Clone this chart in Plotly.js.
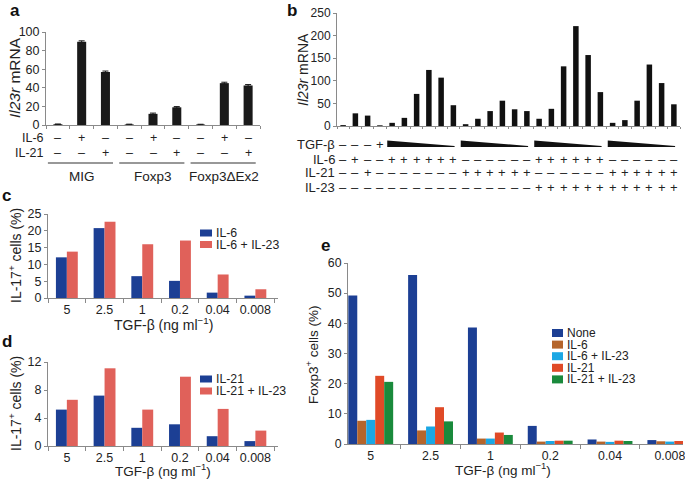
<!DOCTYPE html>
<html><head><meta charset="utf-8">
<script src="https://cdn.plot.ly/plotly-3.0.1.min.js"></script>
<style>html,body{margin:0;padding:0;background:#fff}#chart{width:685px;height:480px}</style>
</head><body><div id="chart"></div>
<script>
const W=685,H=480;
const F='Liberation Sans, Arial, Helvetica, sans-serif';
// ---- Panel a data ----
const aValues=[0.8,89.5,57, 0.6,12,19, 0.5,45,42.5];
const aErrors=[0.3,1,1, 0.3,0.8,0.8, 0.3,1,1];
const aIL6 =[0,1,0, 0,1,0, 0,1,0];
const aIL21=[0,0,1, 0,0,1, 0,0,1];
const aGroups=['MIG','Foxp3','Foxp3ΔEx2'];
const aGroupIdx=[[0,2],[3,5],[6,8]];
// ---- Panel b data ----
const bValues=[2,28,23,1.5, 7,18,71,124,107,46, 4,16,33,56,37,33, 16,38,132,221,157,75, 7,13,56,136,95,48];
const bTGFsingle=['–','–','–','+'];
const bWedges=[[4,9],[10,15],[16,21],[22,27]];
const bIL6 =[0,1,0,0, 1,1,1,1,1,1, 0,0,0,0,0,0, 1,1,1,1,1,1, 0,0,0,0,0,0];
const bIL21=[0,0,1,0, 0,0,0,0,0,0, 1,1,1,1,1,1, 0,0,0,0,0,0, 1,1,1,1,1,1];
const bIL23=[0,0,0,0, 0,0,0,0,0,0, 0,0,0,0,0,0, 1,1,1,1,1,1, 1,1,1,1,1,1];
// ---- Panels c, d, e data ----
const tgfCats=['5','2.5','1','0.2','0.04','0.008'];
const cIL6=[12.1,20.8,6.5,5.1,1.6,0.7];
const cIL6_23=[13.8,22.7,16,17.1,7,2.6];
const dIL21=[5.2,7.2,2.6,3.1,1.4,0.7];
const dIL21_23=[6.6,11.1,5.2,9.9,5.3,2.2];
const eNone=[49.2,56,38.6,6,1.5,1.3];
const eIL6=[7.7,4.5,1.8,0.8,0.8,0.9];
const eIL6_23=[8,5.8,1.8,1,0.7,0.8];
const eIL21=[22.6,12.2,3.8,1.1,1.1,1];
const eIL21_23=[20.6,7.5,3,1.1,1,1.3];
const cNames=['IL-6','IL-6 + IL-23'];
const dNames=['IL-21','IL-21 + IL-23'];
const eNames=['None','IL-6','IL-6 + IL-23','IL-21','IL-21 + IL-23'];
const cdColors=['#1c3f94','#e0615a'];
const eColors=['#1c3f94','#b5652b','#1ba7e4','#e04a27','#1a8a3c'];

const px=x=>x/W, py=y=>1-y/H;
const idx=n=>Array.from({length:n},(_,i)=>i);

const data=[];
data.push({type:'bar',x:idx(aValues.length),y:aValues,width:0.38,marker:{color:'#1a1a1a'},
  error_y:{type:'data',array:aErrors,visible:true,color:'#1a1a1a',thickness:1,width:3},
  xaxis:'x',yaxis:'y',showlegend:false,hoverinfo:'none'});
data.push({type:'bar',x:idx(bValues.length),y:bValues,width:0.45,marker:{color:'#111'},
  xaxis:'x2',yaxis:'y2',showlegend:false,hoverinfo:'none'});
const cSeries=[cIL6,cIL6_23], dSeries=[dIL21,dIL21_23];
cSeries.forEach((s,k)=>data.push({type:'bar',x:tgfCats,y:s,width:0.29,offset:-0.29+k*0.29,
  marker:{color:cdColors[k]},name:cNames[k],xaxis:'x3',yaxis:'y3',showlegend:false,hoverinfo:'none'}));
dSeries.forEach((s,k)=>data.push({type:'bar',x:tgfCats,y:s,width:0.29,offset:-0.29+k*0.29,
  marker:{color:cdColors[k]},name:dNames[k],xaxis:'x4',yaxis:'y4',showlegend:false,hoverinfo:'none'}));
const eSeries=[eNone,eIL6,eIL6_23,eIL21,eIL21_23];
eSeries.forEach((s,k)=>data.push({type:'bar',x:tgfCats,y:s,width:0.15,offset:-0.375+k*0.15,
  marker:{color:eColors[k]},name:eNames[k],xaxis:'x5',yaxis:'y5',showlegend:false,hoverinfo:'none'}));

function ax(o,fs){return Object.assign({showline:true,linecolor:'#8a8a8a',linewidth:1,ticks:'outside',ticklen:3,
  tickcolor:'#8a8a8a',showgrid:false,zeroline:false,fixedrange:true,tickangle:0,
  tickfont:{family:F,size:fs||12,color:'#222'}},o);}

const annotations=[], shapes=[];
function ann(text,x,y,o){annotations.push(Object.assign({text:text,x:px(x),y:py(y),xref:'paper',yref:'paper',
  showarrow:false,xanchor:'center',yanchor:'middle',borderpad:0,font:{family:F,size:12,color:'#222'}},o||{}));}
function dann(text,xv,xref,y,font){annotations.push({text:text,x:xv,xref:xref,y:py(y),yref:'paper',
  showarrow:false,xanchor:'center',yanchor:'middle',borderpad:0,font:font});}
// panel labels
[['a',15,10],['b',292,10],['c',6,195],['d',7,341],['e',325,246]].forEach(p=>
  ann('<b>'+p[0]+'</b>',p[1],p[2],{font:{family:F,size:17,color:'#111'}}));
// panel a rows
const aRowFont={family:F,size:12.5,color:'#222'};
ann('IL-6',45,138,{xanchor:'right',font:aRowFont});
ann('IL-21',45,153,{xanchor:'right',font:aRowFont});
aIL6.forEach((v,i)=>dann(v?'+':'–',i,'x',138,aRowFont));
aIL21.forEach((v,i)=>dann(v?'+':'–',i,'x',153,aRowFont));
aGroupIdx.forEach((g,j)=>{
  shapes.push({type:'line',xref:'x',yref:'paper',x0:g[0]-0.42,x1:g[1]+0.32,y0:py(163),y1:py(163),line:{color:'#333',width:1.2}});
  dann(aGroups[j],(g[0]+g[1])/2,'x',176,{family:F,size:13.5,color:'#222'});
});
ann('<i>Il23r</i> mRNA',15,78,{textangle:-90,font:{family:F,size:15.5,color:'#222'}});
// panel b rows
const bRowFont={family:F,size:13,color:'#222'};
const bRows=[['TGF-β',145],['IL-6',159],['IL-21',173],['IL-23',187]];
bRows.forEach(r=>ann(r[0],336,r[1],{xanchor:'right',font:bRowFont}));
bTGFsingle.forEach((t,i)=>dann(t,i,'x2',145,bRowFont));
[bIL6,bIL21,bIL23].forEach((arr,r)=>arr.forEach((v,i)=>dann(v?'+':'–',i,'x2',bRows[r+1][1],bRowFont)));
bWedges.forEach(w=>{
  const x0=w[0]-0.4,x1=w[1]+0.1,yt=py(140.5),yb=py(147),yb2=py(146);
  shapes.push({type:'path',xref:'x2',yref:'paper',path:`M ${x0},${yt} L ${x1},${yb2} L ${x1},${yb} L ${x0},${yb} Z`,
    fillcolor:'#111',line:{width:0}});
});
ann('<i>Il23r</i> mRNA',303,70,{textangle:-90,font:{family:F,size:14,color:'#222'}});
// titles c,d,e
const tfont={family:F,size:14,color:'#222'};
ann('IL-17<sup>+</sup> cells (%)',15,256,{textangle:-90,font:tfont});
ann('TGF-β (ng ml<sup>−1</sup>)',163,324,{font:tfont});
ann('IL-17<sup>+</sup> cells (%)',15,404,{textangle:-90,font:tfont});
ann('TGF-β (ng ml<sup>−1</sup>)',163,470,{font:{family:F,size:13.5,color:'#222'}});
ann('Foxp3<sup>+</sup> cells (%)',312,355,{textangle:-90,font:{family:F,size:13.5,color:'#222'}});
ann('TGF-β (ng ml<sup>−1</sup>)',503,469,{font:{family:F,size:13.5,color:'#222'}});
// manual legends
function legend(names,colors,x,y0,dy,sw,sh,fs){
  names.forEach((n,k)=>{const y=y0+k*dy;
    shapes.push({type:'rect',xref:'paper',yref:'paper',x0:px(x),x1:px(x+sw),y0:py(y-sh/2),y1:py(y+sh/2),fillcolor:colors[k],line:{width:0}});
    ann(n,x+sw+3,y,{xanchor:'left',font:{family:F,size:fs,color:'#222'}});
  });
}
legend(cNames,cdColors,200,233,11.5,12,7,12.3);
legend(dNames,cdColors,200,379,12,12,7,12.3);
legend(eNames,eColors,552,333,11.6,11,8,12);

const layout={width:W,height:H,margin:{l:0,r:0,t:0,b:0},paper_bgcolor:'#fff',plot_bgcolor:'rgba(0,0,0,0)',
  barmode:'overlay',showlegend:false,
  xaxis:ax({domain:[px(46),px(260)],range:[-0.5,8.5],tick0:-0.5,dtick:1,showticklabels:false,anchor:'y'}),
  yaxis:ax({domain:[py(125),py(32)],range:[0,100],dtick:20,anchor:'x'},12.5),
  xaxis2:ax({domain:[px(337),px(680)],range:[-0.5,27.5],tick0:-0.5,dtick:1,showticklabels:false,anchor:'y2',ticklen:2}),
  yaxis2:ax({domain:[py(126),py(13)],range:[0,250],dtick:50,anchor:'x2'},12),
  xaxis3:ax({type:'category',categoryorder:'array',categoryarray:tgfCats,domain:[px(48),px(278)],range:[-0.5,5.6],tickson:'boundaries',ticklen:4,anchor:'y3'},12.5),
  yaxis3:ax({domain:[py(298),py(214)],range:[0,25],dtick:5,anchor:'x3'},12.5),
  xaxis4:ax({type:'category',categoryorder:'array',categoryarray:tgfCats,domain:[px(48),px(278)],range:[-0.5,5.6],tickson:'boundaries',ticklen:4,anchor:'y4'},12.5),
  yaxis4:ax({domain:[py(446),py(362)],range:[0,12],dtick:4,anchor:'x4'},12.5),
  xaxis5:ax({type:'category',categoryorder:'array',categoryarray:tgfCats,domain:[px(348),px(683)],range:[-0.38,5.22],tickson:'boundaries',ticklen:4,anchor:'y5'},12.3),
  yaxis5:ax({domain:[py(444),py(263)],range:[0,60],dtick:10,anchor:'x5'},12.3),
  annotations:annotations,shapes:shapes};
Plotly.newPlot('chart',data,layout,{displayModeBar:false,staticPlot:true});
</script></body></html>
